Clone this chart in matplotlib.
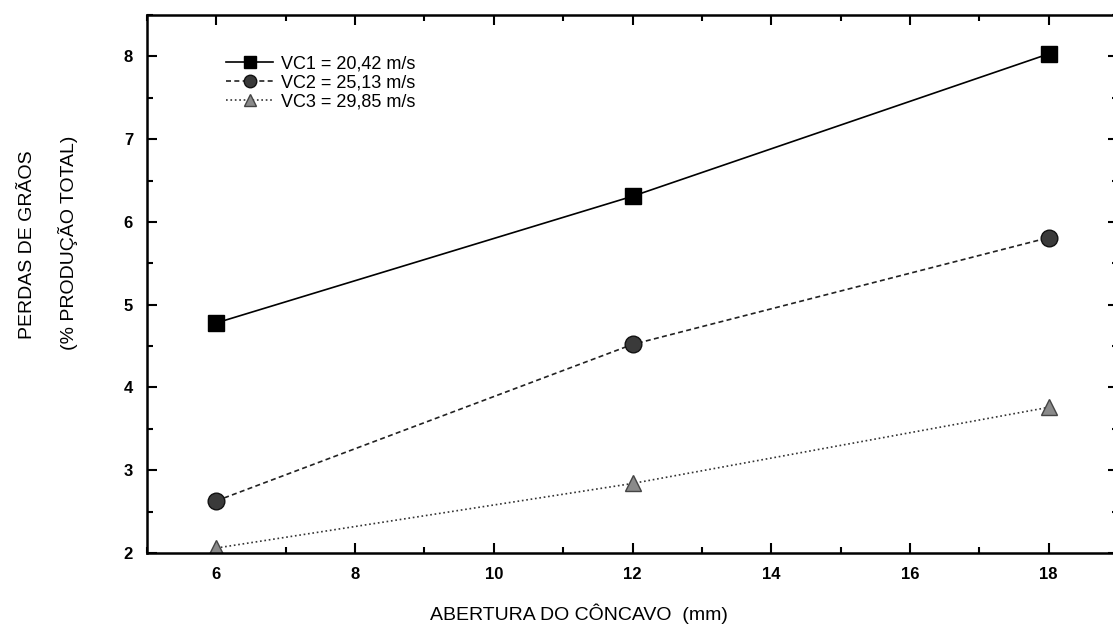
import matplotlib
matplotlib.use("Agg")
import matplotlib.pyplot as plt

plt.rcParams['font.family'] = ['Liberation Sans', 'DejaVu Sans']

abertura = [6, 12, 18]
vc1 = [4.78, 6.31, 8.03]
vc2 = [2.63, 4.52, 5.81]
vc3 = [2.06, 2.84, 3.76]
labels = ['VC1 = 20,42 m/s', 'VC2 = 25,13 m/s', 'VC3 = 29,85 m/s']


fig = plt.figure(figsize=(11.13, 6.28), dpi=100)
ax = fig.add_axes([147/1113, 1 - 553/628, (1118 - 147)/1113, (553 - 15)/628])

ax.plot(abertura, vc1, '-', color='black', lw=1.2, marker='s', ms=11,
        mfc='black', mec='black', label=labels[0])
ax.plot(abertura, vc2, '--', color='#222222', lw=1.2, dashes=(3, 2), marker='o', ms=12,
        mfc='#3a3a3a', mec='#111111', label=labels[1])
ax.plot(abertura, vc3, ':', color='#333333', lw=1.2, marker='^', ms=11,
        mfc='#8a8a8a', mec='#444444', label=labels[2])

ax.set_xlim(5, 19)
ax.set_ylim(2, 8.5)
ax.set_xticks([6, 8, 10, 12, 14, 16, 18])
ax.set_xticks(range(5, 20), minor=True)
ax.set_yticks([2, 3, 4, 5, 6, 7, 8])
ax.set_yticks([2.5, 3.5, 4.5, 5.5, 6.5, 7.5, 8.5], minor=True)
ax.tick_params(which='both', direction='in', top=True, right=True, width=1.5)
ax.tick_params(which='major', length=7, labelsize=12, pad=10)
ax.tick_params(which='minor', length=4)
for lab in ax.get_xticklabels() + ax.get_yticklabels():
    lab.set_fontweight('bold')
for s in ax.spines.values():
    s.set_linewidth(1.8)

ax.legend(loc='upper left', bbox_to_anchor=(0.065, 0.955), frameon=False,
          numpoints=1, handlelength=2.6, fontsize=13, labelspacing=0.1,
          handletextpad=0.4, markerscale=0.75)

fig.text(0.52, 1 - 614/628, 'ABERTURA DO CÔNCAVO  (mm)', ha='center', va='center',
         fontsize=14)
fig.text(28/1113, 1 - 245/628, 'PERDAS DE GRÃOS', rotation=90, ha='center',
         va='center', fontsize=14)
fig.text(68/1113, 1 - 243/628, '(% PRODUÇÃO TOTAL)', rotation=90, ha='center',
         va='center', fontsize=14)

fig.savefig('out.png', dpi=100)
